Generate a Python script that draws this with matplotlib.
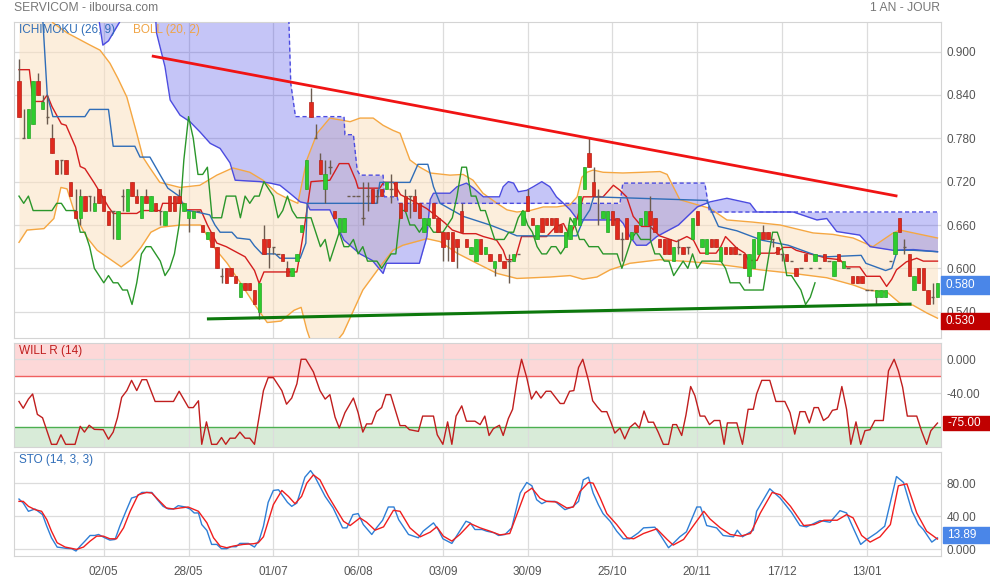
import numpy as np
import matplotlib
matplotlib.use("Agg")
import matplotlib.pyplot as plt
from matplotlib.patches import Rectangle

plt.rcParams['font.family'] = ['Liberation Sans', 'DejaVu Sans']

# ---------------- data (bar index = trading session) ----------------
opens = [.86,.78,.78,.80,.86,.82,.81,.78,.75,.75,.75,.72,.68,.67,.70,.70,.68,.71,.70,.68,
         .68,.64,.70,.68,.72,.70,.67,.70,.68,.69,.68,.66,.70,.70,.70,.68,.67,.67,.68,.66,
         .64,.65,.63,.59,.60,.60,.59,.56,.58,.58,.57,.54,.64,.64,.63,.62,.62,.60,.59,.61,
         .65,.71,.83,.78,.75,.71,.74,.68,.65,.65,.70,.70,.70,.67,.70,.71,.70,.71,.71,.71,
         .72,.69,.70,.70,.70,.69,.65,.66,.69,.67,.65,.65,.65,.64,.68,.64,.62,.61,.64,.62,
         .62,.60,.62,.61,.61,.61,.62,.66,.70,.67,.64,.67,.67,.67,.67,.66,.63,.64,.66,.66,
         .71,.76,.72,.70,.67,.65,.68,.67,.64,.67,.64,.66,.66,.66,.68,.67,.64,.64,.64,.61,
         .63,.63,.63,.64,.68,.63,.62,.64,.64,.61,.63,.63,.63,.62,.62,.59,.60,.62,.65,.65,
         .64,.63,.62,.62,.61,.60,.60,.62,.60,.61,.60,.62,.61,.59,.62,.60,.60,.59,.59,.59,
         .57,.57,.56,.56,.56,.61,.62,.67,.63,.62,.57,.60,.60,.57,.56,.56]
highs = [.89,.82,.82,.86,.87,.84,.84,.80,.75,.75,.75,.72,.71,.71,.70,.70,.70,.71,.70,.68,
         .68,.68,.71,.71,.72,.71,.70,.71,.70,.69,.68,.68,.70,.70,.71,.69,.68,.68,.68,.66,
         .65,.65,.63,.60,.60,.60,.59,.58,.58,.58,.57,.58,.66,.64,.63,.62,.62,.61,.60,.62,
         .66,.75,.85,.80,.76,.75,.75,.68,.67,.67,.70,.70,.70,.72,.72,.71,.71,.71,.72,.73,
         .72,.69,.71,.70,.71,.69,.67,.67,.69,.67,.65,.65,.65,.64,.69,.64,.63,.64,.64,.63,
         .62,.61,.62,.61,.62,.62,.62,.68,.71,.67,.66,.67,.67,.67,.67,.66,.65,.66,.67,.70,
         .74,.78,.74,.71,.68,.68,.68,.67,.65,.67,.65,.66,.67,.68,.70,.67,.64,.64,.64,.63,
         .64,.63,.63,.67,.68,.64,.64,.64,.64,.63,.63,.63,.63,.62,.62,.62,.64,.65,.66,.65,
         .64,.63,.62,.62,.61,.60,.60,.62,.60,.62,.60,.62,.61,.61,.62,.61,.60,.59,.59,.59,
         .57,.57,.57,.57,.57,.61,.65,.67,.64,.62,.59,.60,.60,.57,.58,.58]
lows = [.81,.78,.78,.80,.84,.82,.80,.76,.73,.73,.73,.70,.67,.66,.68,.68,.68,.69,.68,.66,
        .64,.64,.68,.68,.70,.69,.67,.69,.68,.68,.66,.66,.68,.68,.69,.68,.65,.67,.68,.65,
        .64,.63,.60,.58,.58,.59,.58,.56,.57,.57,.55,.53,.62,.60,.62,.62,.61,.59,.59,.61,
        .65,.71,.81,.78,.73,.69,.73,.67,.65,.65,.70,.70,.70,.66,.68,.69,.69,.70,.71,.69,
        .70,.67,.68,.67,.68,.67,.65,.66,.67,.65,.61,.61,.61,.60,.65,.63,.62,.61,.62,.62,
        .61,.59,.61,.60,.58,.61,.62,.66,.68,.66,.64,.65,.66,.66,.65,.65,.63,.64,.66,.66,
        .71,.74,.70,.66,.67,.65,.66,.64,.61,.64,.64,.65,.66,.66,.64,.65,.63,.62,.62,.61,
        .62,.62,.62,.64,.66,.63,.62,.63,.63,.61,.62,.62,.62,.62,.60,.58,.60,.62,.64,.64,
        .63,.62,.61,.61,.61,.59,.60,.61,.60,.61,.60,.61,.61,.59,.61,.60,.60,.58,.58,.58,
        .57,.57,.55,.56,.56,.61,.62,.65,.62,.59,.57,.58,.57,.55,.55,.56]
closes = [.81,.78,.82,.86,.84,.83,.81,.76,.73,.75,.73,.70,.67,.70,.68,.70,.69,.69,.68,.66,
          .68,.68,.70,.71,.70,.69,.70,.69,.70,.68,.68,.68,.68,.68,.69,.69,.68,.68,.68,.65,
          .65,.63,.60,.59,.58,.59,.58,.58,.57,.57,.55,.58,.62,.63,.63,.62,.61,.59,.60,.62,
          .66,.75,.81,.78,.73,.73,.74,.67,.67,.67,.70,.70,.70,.67,.70,.69,.70,.70,.72,.71,
          .70,.67,.68,.70,.68,.67,.67,.67,.67,.65,.63,.64,.61,.63,.65,.63,.63,.64,.62,.63,
          .61,.61,.61,.60,.61,.62,.62,.68,.68,.66,.66,.65,.66,.66,.65,.65,.65,.66,.67,.70,
          .74,.74,.70,.70,.68,.68,.66,.64,.64,.64,.65,.65,.67,.68,.66,.65,.63,.62,.62,.63,
          .63,.62,.63,.67,.66,.64,.64,.63,.63,.63,.62,.62,.62,.62,.60,.62,.64,.65,.64,.64,
          .64,.62,.62,.61,.61,.59,.60,.61,.60,.62,.60,.61,.61,.61,.61,.61,.60,.58,.58,.58,
          .57,.57,.57,.57,.57,.61,.65,.65,.63,.59,.59,.58,.57,.55,.56,.58]

# Ichimoku (26, 9)
tenkan_x = [0,2.2,3,5,6,7,9,10,12,13,14,16,17.3,19,20,25,26,30,30.5,35,35.5,38.6,40,42,44,48,50,51,52,59,
            60.5,62,66,68,70,71.5,72,76.6,77.4,79.5,81,84,86.5,88.7,90.4,92,94.3,97,98.6,101.4,102.8,
            103.5,105.3,106.7,112,114,115.6,117,118.4,119.8,124,126.2,127.6,129,130.4,132.2,134,136,
            139.6,141.8,143.2,144.6,148,149,150,152.4,154.1,154.9,156.7,157.4,160.5,162.3,164,165,167.2,
            169.3,171.5,174.3,175.7,178.5,179.9,182.8,184.2,185.3,186.3,188.4,190.6,192,195]
tenkan_y = [.875,.875,.831,.831,.84,.824,.80,.798,.768,.741,.738,.718,.704,.685,.676,.676,.68,.68,.69,.69,
            .681,.681,.66,.635,.63,.616,.597,.579,.595,.595,.653,.72,.722,.745,.745,.722,.711,.711,.719,
            .719,.702,.692,.683,.672,.663,.653,.648,.648,.644,.639,.625,.612,.612,.644,.644,.658,.662,.644,
            .667,.699,.699,.715,.708,.699,.672,.658,.658,.645,.637,.644,.639,.621,.621,.630,.644,.628,.621,
            .611,.611,.621,.621,.629,.629,.625,.621,.618,.614,.612,.602,.602,.589,.589,.575,.585,.598,.609,
            .614,.610,.610]
kijun_x = [5,6,7.2,14,15,19,20,24.6,25.7,27.8,30,31.6,34.2,35.2,38.4,40.5,41.6,42.7,45.2,46.3,49,50,51.6,
           54.4,55.4,59.7,60.9,61.2,76,76.6,83,84.7,86.8,88,89.4,94.3,100,102.8,105.7,118.4,119.8,121.2,
           122,146,148.5,152.4,157.7,163.3,169.2,171.5,178.8,179.8,184,185.3,186.5,189.9,195]
kijun_y = [.95,.84,.81,.81,.82,.82,.769,.769,.754,.754,.729,.711,.699,.681,.677,.674,.66,.65,.65,.642,.64,
           .631,.62,.62,.614,.614,.635,.69,.69,.719,.719,.744,.744,.713,.69,.672,.66,.653,.645,.645,.667,
           .681,.699,.694,.658,.652,.639,.632,.618,.616,.618,.607,.597,.600,.625,.625,.623]
spanA_x = [0,16.6,17.8,19,23.1,28.9,29.2,31,32.1,34.2,36.3,38.4,40.6,42.7,44.8,45.9,51.2,53.3,55.4,57.5,
           59.7,61.1,61.8,66,67.6,69,72.4,75,77.3,78,85,86.6,87.3,88,91.5,93,95,96.5,98.6,102,102.8,103.9,
           105,106,107.8,109.2,111,112.7,114.1,115.6,117,118.4,119.8,127.6,128.3,129.7,131.1,133.2,135.4,
           140,144,146.7,150.3,155.2,156.6,164.4,169.4,171.5,173.6,178.5,180.7,185.6,189.9,195]
spanA_y = [.97,.96,.909,.915,.96,.96,.926,.879,.833,.812,.803,.789,.773,.766,.746,.722,.720,.718,.715,.704,
           .692,.690,.681,.681,.658,.639,.62,.611,.593,.607,.607,.644,.695,.704,.704,.713,.718,.711,.699,.699,
           .713,.720,.718,.706,.708,.713,.720,.713,.699,.690,.681,.669,.667,.667,.662,.644,.632,.632,.644,
           .66,.685,.692,.697,.690,.678,.678,.667,.669,.651,.646,.630,.625,.626,.623]
spanB_x = [0,56.8,57.7,58.7,69,69.2,71,71.8,72.4,77.3,77.6,80.3,80.6,127.6,128.2,145.6,146.6,195]
spanB_y = [1.05,1.05,.856,.81,.81,.785,.785,.736,.729,.729,.699,.699,.69,.69,.718,.718,.678,.678]

# Bollinger (20, 2)
bbu_x = [0,7.2,10.2,15.1,17.2,19.3,21,22.9,25,26.3,27.8,29.9,34.2,38.4,42,45.4,49,51.8,54.8,57.5,59.2,61.1,
         63.3,66,70.3,72.4,75.2,77.3,79.4,80.9,83,85.1,87.3,91.5,94.3,96.4,98.5,101.5,103.6,105.7,108.5,
         111.3,114.2,117,118.5,119.5,120.6,121.9,124,128.2,132.5,136.1,137.6,140.3,146.7,150.3,155.8,161.6,
         168.6,172.8,177.1,181.3,185.6,187,195]
bbu_y = [1.0,.94,.926,.909,.902,.884,.863,.837,.787,.754,.739,.719,.712,.715,.729,.739,.733,.722,.704,.695,
         .69,.75,.787,.808,.803,.808,.808,.798,.791,.787,.75,.74,.732,.729,.730,.722,.704,.69,.681,.678,.68,
         .685,.685,.688,.699,.726,.733,.736,.733,.732,.733,.734,.73,.695,.683,.667,.664,.66,.649,.647,.642,
         .630,.649,.653,.642]
bbl_x = [0,1.7,5.3,7.4,8.9,10.2,12.1,14.4,16.6,19.5,21.7,23.8,25.9,28,30.1,34.4,38.6,41.4,44.2,47.1,49.9,
         52.7,55.6,58.4,59.9,61.1,62.4,65,68.8,73,76.6,79.4,81.5,86.6,89.4,93,97.2,101.5,105.7,112.7,117,
         119.7,122.7,125.5,129.7,136.1,143.1,150.3,157.3,164.3,171.5,177.1,180,184.3,187,189.8,192.8,195]
bbl_y = [.636,.653,.655,.669,.712,.71,.671,.643,.625,.612,.602,.612,.629,.650,.657,.66,.66,.629,.607,.579,
         .551,.525,.527,.542,.546,.515,.49,.48,.51,.57,.602,.625,.632,.641,.637,.621,.607,.593,.586,.588,
         .59,.585,.588,.598,.607,.612,.609,.604,.598,.593,.587,.577,.57,.567,.552,.549,.538,.531]

# trend lines
red_trend_x = [28.2, 186.5]
red_trend_y = [0.894, 0.700]
green_trend_x = [39.9, 189.5]
green_trend_y = [0.530, 0.5505]

# Williams %R (14)
willr_x = [0,0.9,2,2.9,3.9,5,6.9,8,8.9,9.9,11.9,13,13.9,14.9,16,17.9,19,20,20.9,21.8,22.9,23.9,25,26.1,
           27.1,28.9,32.8,34,36,37,38.1,38.8,39.8,40.9,42,43,43.9,44.8,45.9,46.9,48,49,50,51.9,52.9,54,55.8,
           56.8,57.9,59,59.9,60.9,62.5,63.9,65,66,67.1,68,69.2,71,72,73,73.8,74.9,75.9,77,77.9,78.9,80.9,
           82,82.9,84.8,85.7,88,88.8,90,91,91.9,92.8,94,95,96.8,97.9,98.9,99.8,100.7,102,102.8,103.9,104.8,
           105.8,106.7,107.8,108.8,109.8,110.8,111.9,112.9,114.9,115.7,116.9,117.8,118.8,119.7,120.9,121.8,
           122.8,123.7,124.8,125.6,126.5,127.6,128.6,129.7,130.8,131.7,132.7,133.6,134.7,135.7,136.8,137.9,
           138.8,139.6,140.7,141.6,142.6,143.5,144.6,145.6,146.6,147.6,148.8,149.7,150.4,152.4,153.6,154.8,
           155.9,156.6,157.7,159.4,160.7,162.6,163.7,164.7,165.8,166.9,167.8,168.8,169.7,170.8,171.8,172.7,
           173.7,174.7,175.7,176.6,177.7,178.7,179.6,180.7,181.7,183.5,184.6,185.8,186.7,187.6,188.6,190.6,
           191.6,192.7,193.6,195]
willr_y = [-49.6,-57.6,-46.8,-40.8,-64.8,-68.8,-100,-100,-88.8,-100,-100,-78.8,-85.6,-77.6,-82.4,-82.8,-94,
           -85.6,-68.8,-44.8,-36.8,-24.8,-36.8,-24,-24,-49.6,-49.6,-37.6,-56.8,-56.8,-48.8,-100,-73.6,-100,
           -100,-92,-100,-92.8,-92.8,-85.6,-92.8,-92.8,-100,-36.8,-21.6,-21.6,-36.8,-52.8,-45.6,-28.8,0,0,
           -14.8,-36.8,-46.8,-41.6,-68,-80.8,-62.8,-45.6,-62.8,-85.6,-76,-76,-61.6,-56.8,-41.6,-41.6,-78,-78,
           -82.8,-84.8,-66.8,-66.8,-88.8,-100,-73.6,-100,-66.8,-54.8,-72.8,-72.8,-76.8,-66.8,-89.6,-81.6,
           -77.6,-89.6,-69.6,-58.8,-22.8,0,-21.6,-46.8,-37.6,-45.6,-37.6,-37.6,-52,-52,-37.6,-36.8,-9.6,0,
           -24.8,-48.8,-56,-61.6,-61.6,-72.8,-86.8,-80.8,-93.6,-80,-74.8,-80.8,-60.8,-74,-74,-85.6,-100,-100,
           -76.8,-76.8,-89.6,-65.6,-32,-42.8,-66.8,-66.8,-76.8,-72,-72,-100,-74.8,-74.8,-100,-58.8,-58.8,
           -40.8,-24.8,-24.8,-49.6,-49.6,-62.8,-88,-61.6,-61.6,-74.8,-56.8,-56.8,-72,-68,-60,-58.8,-32,-58.8,
           -100,-73.6,-100,-84,-82.8,-72,-72,-13.6,0,-13.6,-32.8,-66.8,-66.8,-84,-100,-84,-75]

# Stochastic (14, 3, 3)
stok_x = [0,0.9,2,3.4,5,5.9,6.9,8.1,10.1,11.2,12.1,13,14,15.1,16.1,16.9,18.2,19.3,20.4,21.4,22.7,23.9,25,
          26.1,28.2,29.4,30.6,31.7,32.8,33.8,35.3,36.3,37.2,38.1,38.8,39.9,40.9,42,43,44.1,45,46.1,46.9,48.7,
          50,51,51.9,52.9,54,55.1,56,57,57.9,59,60.7,61.9,62.8,63.9,65,66.7,68.7,69.6,70.9,72,73.1,74.9,75.9,
          77.2,78.4,79.6,80.6,82.7,84.8,85.8,88,89,90,91.9,93.1,94.9,95.8,96.8,98.3,99.3,100.9,101.8,103.2,
          104.6,106.4,107.8,108.9,109.9,111,112,113.8,115.9,117.5,118.8,119.8,120.9,121.9,123,124,125.5,
          126.9,128.3,129.7,131.5,132.6,135,136.4,137.9,138.9,140.3,141.7,143.9,144.7,146,148.1,149.5,151.7,
          152.5,153.6,155.9,156.6,159.4,161.6,164,165.8,167.2,170.1,172.2,174.3,175.7,177.1,178.7,180,182.1,
          183.8,186.3,187.8,189.6,191,192,193.8,195]
stok_y = [60.8,56,46,48.8,42,28,14,2.8,1.2,0.8,-2,4,10,16.8,16.8,18,14,11.2,12,28,46,62,64,68.8,68.8,60,52,
          48.8,48.8,52.8,51.2,48.8,44,44,30,22.8,6,6,0.8,0.8,3.2,3.2,7.2,7.2,2.8,11.2,28,56.8,71.2,72,64.8,
          56.8,52,56,87.2,95.2,88,76,64,50,26,26,42,43.2,30,18,26,35.2,51.2,51.2,36,18,14,22,32,24,12.8,7.2,
          18,34,32,24,24,22,20,16.8,18,26,68,80.8,76.8,60,55.2,58,58,48,51.2,58,84,87.2,68,54,43.2,34,22,
          12.8,12.8,20,26,26.8,15.2,2,7.2,15.2,21.2,51.2,51.2,28.8,26,16.8,15.2,23.2,15.2,23.2,46,73.2,62,
          44.8,28.8,27.2,34.8,32.8,46.8,44,26,6,12,20,28,88,80.8,46,30,24,8.8,13.89]
stod_x = [0,0.9,2,3.4,4.8,5.9,6.9,8.1,9.8,11.2,12.2,13.7,15.1,16.5,17.9,19.3,20.7,22.2,23.6,25.3,27.1,28.2,
          29.9,31.3,32.8,34.2,35.9,38.1,39.9,41.3,42.7,44.1,45.5,47.6,49.8,50.8,51.9,54,55.8,57.2,58.6,60,61.1,
          62.5,63.9,65.7,67.4,68.9,70.3,72.4,73.8,75.6,77.4,79.5,80.9,83,85.2,87.3,88.7,90.1,91.9,93.6,95.8,
          97.9,100,102.1,104.2,105.7,107.4,108.9,110.6,112,114.2,116.3,117.7,119.1,120.9,121.9,123.4,124.8,
          126.9,129.1,130.5,132.6,135.4,137.6,138.9,141.1,143.2,145.4,146.7,148.9,151,153.2,155.3,157.4,159.9,
          161.6,163.8,166.6,168.8,170.9,173.7,175.7,177.1,178.9,180.7,182.8,185,186.7,188.5,190.6,192.7,195]
stod_y = [58,58,52,48,46,36,22,8,2.8,1.2,0,2.8,10,16,16,12.8,12.8,26,46,66,68.8,68,58,50,48.8,50,51.2,46,
          32,14,4,2,4,6,6.8,8,15.2,54,71.2,64,55.2,64,80,90,84,64,48,34,28.8,38,32.8,23.2,27.2,47.2,46,26,
          15.2,20.8,27.2,16,10,18,31.2,26,22,17.5,19.2,42,68,74,62,58,57.2,50,51.2,70,80.8,80,62,43.2,30,
          14,12.8,19.2,24.8,12,5.2,12,28.8,46,36.8,26,18,16,19.2,44,68.8,66,52,28.8,30,35.2,35.2,42,38,16.8,
          8.8,15.2,30,76.8,79.2,44,22,12.5]

date_ticks = [18, 36, 54, 72, 90, 108, 126, 144, 162, 180]
date_labels = ["02/05", "28/05", "01/07", "06/08", "03/09", "30/09", "25/10", "20/11", "17/12", "13/01"]
price_ticks = [0.54, 0.60, 0.66, 0.72, 0.78, 0.84, 0.90]
willr_ticks = [0, -40]
sto_ticks = [0, 40, 80]

# ---------------- figure ----------------
W, H = 990, 580
fig = plt.figure(figsize=(W / 100, H / 100), dpi=100)
fig.patch.set_facecolor('white')

def frac_axes(top, bottom, left=14, right=941):
    return fig.add_axes([left / W, 1 - bottom / H, (right - left) / W, (bottom - top) / H])

ax = frac_axes(22, 337.7)
axw = frac_axes(342.7, 447.3)
axs = frac_axes(451.7, 556)

XL = (-1.06, 195.75)
GRID = '#dcdcdc'
TXT = '#555555'
for a in (ax, axw, axs):
    a.set_xlim(*XL)
    a.set_xticks(date_ticks)
    a.grid(True, color=GRID, lw=0.9)
    a.set_axisbelow(True)
    a.yaxis.tick_right()
    a.tick_params(axis='both', length=0, labelsize=8.5, labelcolor=TXT, pad=4)
    for s in a.spines.values():
        s.set_color('#d4d4d4')
        s.set_linewidth(0.8)
    a.set_xticklabels([])

axs.set_xticklabels(date_labels)
axs.tick_params(axis='x', pad=7)

# ---- main panel ----
ax.set_ylim(0.504, 0.941)
ax.set_yticks(price_ticks)
ax.set_yticklabels([f"{v:.3f}" for v in price_ticks])

gx = np.linspace(0, 195, 1951)
bu = np.interp(gx, bbu_x, bbu_y)
bl = np.interp(gx, bbl_x, bbl_y)
ax.fill_between(gx, bl, bu, color='#fbe0c0', alpha=0.55, lw=0, zorder=1)
ax.plot(bbu_x, bbu_y, color='#f5a742', lw=1.0, zorder=3)
ax.plot(bbl_x, bbl_y, color='#f5a742', lw=1.0, zorder=3)

sa = np.interp(gx, spanA_x, spanA_y)
sb = np.interp(gx, spanB_x, spanB_y)
ax.fill_between(gx, sa, sb, color='#4040e6', alpha=0.3, lw=0, zorder=2)
ax.plot(spanA_x, spanA_y, color='#4b4be0', lw=1.0, zorder=3)
ax.plot(spanB_x, spanB_y, color='#4b4be0', lw=1.0, ls=(0, (3, 2)), zorder=3)

ax.plot(tenkan_x, tenkan_y, color='#d41e1e', lw=1.0, zorder=4)
ax.plot(kijun_x, kijun_y, color='#2f6db8', lw=1.0, zorder=4)
chikou = closes[26:]
ax.plot(np.arange(len(chikou)), chikou, color='#2a962a', lw=1.0, zorder=4)

# candles
idx = np.arange(len(closes))
o = np.array(opens); c = np.array(closes); h = np.array(highs); l = np.array(lows)
ax.vlines(idx, l, h, color='#6b5b4f', lw=1.0, zorder=5)
up = c > o
dn = c < o
eq = c == o
bw = 0.72
ax.bar(idx[up], (c - o)[up], bottom=o[up], width=bw, color='#2ecc2e', edgecolor='#27a827', lw=0.5, zorder=6)
ax.bar(idx[dn], (o - c)[dn], bottom=c[dn], width=bw, color='#e02a1e', edgecolor='#b82218', lw=0.5, zorder=6)
ax.hlines(c[eq], idx[eq] - bw / 2, idx[eq] + bw / 2, color='#6b5b4f', lw=1.0, zorder=6)

ax.plot(red_trend_x, red_trend_y, color='#f01414', lw=2.0, zorder=7, solid_capstyle='butt')
ax.plot(green_trend_x, green_trend_y, color='#0c780c', lw=2.2, zorder=7, solid_capstyle='butt')

fig.text(19 / W, 1 - 30 / H, 'ICHIMOKU (26, 9)', color='#2f6db8', fontsize=8.5, va='center', ha='left')
fig.text(133 / W, 1 - 30 / H, 'BOLL (20, 2)', color='#f0a445', fontsize=8.5, va='center', ha='left')

# ---- Williams %R ----
axw.set_ylim(-103.5, 19.5)
axw.set_yticks(willr_ticks)
axw.set_yticklabels(['0.000', '-40.00'])
axw.axhspan(-20, 19.5, color='#fdd8d8', lw=0, zorder=0)
axw.axhspan(-103.5, -80, color='#d8ebd8', lw=0, zorder=0)
axw.axhline(-20, color='#f06060', lw=1.0, zorder=1)
axw.axhline(-80, color='#4caf50', lw=1.0, zorder=1)
axw.plot(willr_x, willr_y, color='#c01e1e', lw=1.0, zorder=3)
fig.text(19 / W, 1 - 351 / H, 'WILL R (14)', color='#c01e1e', fontsize=8.5, va='center', ha='left')

# ---- Stochastic ----
axs.set_ylim(-8, 118)
axs.set_yticks(sto_ticks)
axs.set_yticklabels(['0.000', '40.00', '80.00'])
axs.plot(stok_x, stok_y, color='#2f7fd6', lw=1.0, zorder=3)
axs.plot(stod_x, stod_y, color='#f01e1e', lw=1.0, zorder=3)
fig.text(19 / W, 1 - 460 / H, 'STO (14, 3, 3)', color='#2f6db8', fontsize=8.5, va='center', ha='left')

# ---- header ----
fig.text(14 / W, 1 - 8 / H, 'SERVICOM - ilboursa.com', color='#777777', fontsize=8.7, va='center', ha='left')
fig.text(940 / W, 1 - 8 / H, '1 AN - JOUR', color='#777777', fontsize=8.7, va='center', ha='right')

# ---- value boxes ----
def value_box(y0, y1, text, color, x0=941):
    fig.patches.append(Rectangle((x0 / W, 1 - y1 / H), (W - x0) / W, (y1 - y0) / H,
                                 transform=fig.transFigure, color=color, zorder=10))
    fig.text((x0 + 4) / W, 1 - (y0 + y1) / 2 / H, text, color='white', fontsize=8.5,
             va='center', ha='left', zorder=11)

value_box(276, 294, f"{closes[-1]:.3f}", '#4a86e8')
value_box(312.7, 329.3, f"{bbl_y[-1] - 0.001:.3f}", '#c00000')
value_box(416, 429.5, f"{willr_y[-1]:.2f}", '#c00000', x0=943)
value_box(526.7, 543.3, f"{stok_y[-1]:.2f}", '#4a86e8', x0=943)

fig.savefig('out.png', dpi=100, facecolor='white')
